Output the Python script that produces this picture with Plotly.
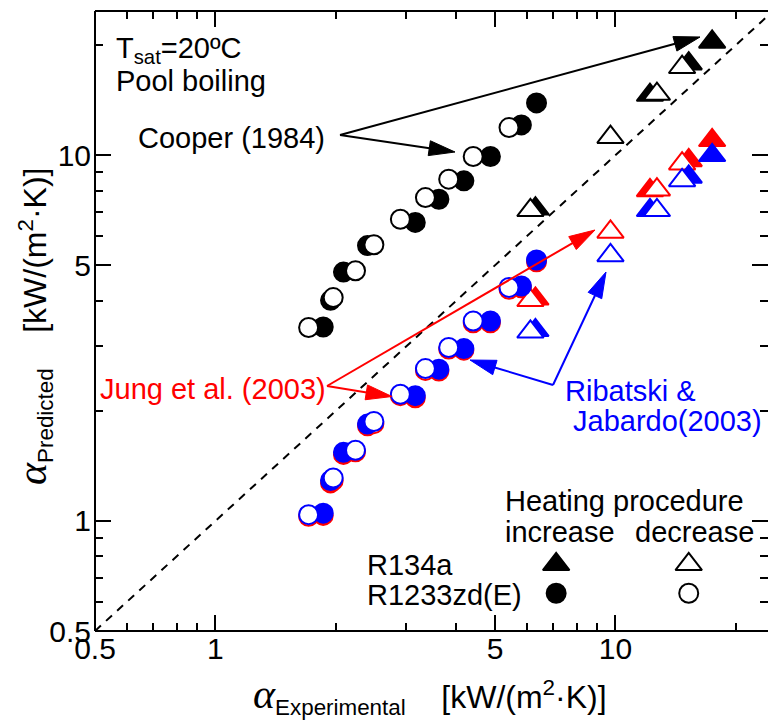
import math
import plotly.graph_objects as go

# ---------------- data (kW/(m2K)) ----------------
# R1233zd(E), heating increase (filled circles)
exp_r1233_inc = [1.86, 1.94, 2.09, 2.40, 3.16, 3.62, 4.18, 4.87, 5.82, 6.35]
cooper_r1233_inc = [3.39, 4.01, 4.79, 5.66, 6.55, 7.58, 8.51, 9.92, 12.1, 13.9]
jung_r1233_inc = [1.035, 1.27, 1.52, 1.82, 2.17, 2.57, 2.93, 3.48, 4.34, 5.11]
ribatski_r1233_inc = [1.05, 1.29, 1.54, 1.84, 2.20, 2.60, 2.96, 3.52, 4.39, 5.17]
# R1233zd(E), heating decrease (open circles)
exp_r1233_dec = [1.71, 1.97, 2.24, 2.49, 2.90, 3.35, 3.83, 4.41, 5.42]
cooper_r1233_dec = [3.38, 4.08, 4.83, 5.69, 6.68, 7.66, 8.60, 9.92, 11.9]
jung_r1233_dec = [1.03, 1.29, 1.545, 1.845, 2.20, 2.58, 2.95, 3.48, 4.30]
ribatski_r1233_dec = [1.04, 1.31, 1.56, 1.87, 2.22, 2.61, 2.98, 3.52, 4.35]
# R134a, heating increase (filled triangles)
exp_r134a_inc = [6.31, 12.2, 15.25, 17.45]
cooper_r134a_inc = [7.14, 14.6, 17.8, 20.4]
jung_r134a_inc = [4.05, 8.01, 9.68, 10.98]
ribatski_r134a_inc = [3.32, 7.07, 8.72, 9.99]
# R134a, heating decrease (open triangles)
exp_r134a_dec = [6.13, 9.72, 12.7, 14.68]
cooper_r134a_dec = [7.07, 11.2, 14.7, 17.4]
jung_r134a_dec = [4.01, 6.17, 8.05, 9.48]
ribatski_r134a_dec = [3.29, 5.32, 7.07, 8.53]

parity_line = [0.5, 30]

major_ticks = [0.5, 1, 5, 10]
major_labels = ["0.5", "1", "5", "10"]
minor_ticks = [0.6, 0.7, 0.8, 0.9, 2, 3, 4, 6, 7, 8, 9, 20]

# ---------------- layout constants ----------------
W, H = 768, 722
L, T, R, B = 95, 11, 768, 631
XDEC, YDEC = 400.0, 365.7
x_range = [math.log10(0.5), math.log10(0.5) + (R - L) / XDEC]
y_range = [math.log10(0.5), math.log10(0.5) + (B - T) / YDEC]

FONT = "Liberation Sans, Arial, sans-serif"
RED, BLUE, BLACK = "#ff0000", "#0000ff", "#000000"
CIRC, TRI = 19, 23


def P(px, py):
    return (px - L) / (R - L), (B - py) / (B - T)


fig = go.Figure()

fig.add_trace(go.Scatter(x=parity_line, y=parity_line, mode="lines",
                         line=dict(color=BLACK, width=2, dash="8px,7px"),
                         hoverinfo="skip", showlegend=False))


def add(x, y, symbol, color, filled, size):
    fig.add_trace(go.Scatter(
        x=x, y=y, mode="markers", showlegend=False,
        marker=dict(symbol=symbol, size=size,
                    color=color if filled else "white",
                    line=dict(color=color, width=2))))


for col, r1233i, r1233d, r134i, r134d in [
    (BLACK, cooper_r1233_inc, cooper_r1233_dec, cooper_r134a_inc, cooper_r134a_dec),
    (RED, jung_r1233_inc, jung_r1233_dec, jung_r134a_inc, jung_r134a_dec),
    (BLUE, ribatski_r1233_inc, ribatski_r1233_dec, ribatski_r134a_inc, ribatski_r134a_dec),
]:
    add(exp_r1233_inc, r1233i, "circle", col, True, CIRC)
    add(exp_r1233_dec, r1233d, "circle", col, False, CIRC)
    add(exp_r134a_inc, r134i, "triangle-up", col, True, TRI)
    add(exp_r134a_dec, r134d, "triangle-up", col, False, TRI)

# legend keys
leg_x = [7.11, 15.25]
add([leg_x[0]], [0.761], "triangle-up", BLACK, True, TRI)
add([leg_x[1]], [0.761], "triangle-up", BLACK, False, TRI)
add([leg_x[0]], [0.634], "circle", BLACK, True, CIRC)
add([leg_x[1]], [0.634], "circle", BLACK, False, CIRC)

# ---------------- frame + arrows (pixel geometry -> paper) ----------------
shapes = [
    dict(type="line", xref="paper", yref="paper", x0=0, y0=0, x1=0, y1=1,
         line=dict(color=BLACK, width=2)),
    dict(type="line", xref="paper", yref="paper", x0=0, y0=0, x1=1, y1=0,
         line=dict(color=BLACK, width=2)),
    dict(type="line", xref="paper", yref="paper", x0=0, y0=1, x1=1, y1=1,
         line=dict(color=BLACK, width=2)),
]


def arrow(tail, tip, color, hl=26, hw=15):
    dx, dy = tip[0] - tail[0], tip[1] - tail[1]
    d = math.hypot(dx, dy)
    ux, uy = dx / d, dy / d
    nx, ny = -uy, ux
    bx, by = tip[0] - hl * ux, tip[1] - hl * uy
    x0, y0 = P(*tail)
    x1, y1 = P(bx + 2 * ux, by + 2 * uy)
    shapes.append(dict(type="line", xref="paper", yref="paper", x0=x0, y0=y0,
                       x1=x1, y1=y1, line=dict(color=color, width=2)))
    pts = [tip, (bx + nx * hw / 2, by + ny * hw / 2), (bx - nx * hw / 2, by - ny * hw / 2)]
    pp = [P(*p) for p in pts]
    path = "M{} {} L{} {} L{} {} Z".format(pp[0][0], pp[0][1], pp[1][0], pp[1][1], pp[2][0], pp[2][1])
    shapes.append(dict(type="path", xref="paper", yref="paper", path=path,
                       fillcolor=color, line=dict(color=color, width=1)))


arrow((340, 135), (700, 37), BLACK)
arrow((340, 135), (455, 152), BLACK)
arrow((327, 386), (595, 230), RED)
arrow((327, 386), (392, 396.5), RED)
arrow((553, 385), (606, 272), BLUE)
arrow((553, 385), (470, 360), BLUE)

# ---------------- text ----------------
annotations = []


def text(t, px, py, color=BLACK, size=29, xanchor="left", yanchor="middle", angle=0):
    x, y = P(px, py)
    annotations.append(dict(text=t, x=x, y=y, xref="paper", yref="paper",
                            xanchor=xanchor, yanchor=yanchor, showarrow=False,
                            textangle=angle,
                            font=dict(family=FONT, size=size, color=color)))


text("T<sub>sat</sub>=20ºC", 114, 50)
text("Pool boiling", 114, 81)
text("Cooper (1984)", 136, 138)
text("Jung et al. (2003)", 98, 389, color=RED)
text("Ribatski &amp;", 563, 391, color=BLUE)
text("Jabardo(2003)", 571, 421, color=BLUE)
text("Heating procedure", 503, 501)
text("increase", 503, 532)
text("decrease", 633, 532)
text("R134a", 365, 565)
text("R1233zd(E)", 365, 595)

alpha = ('<span style="font-family:Liberation Serif,Times New Roman,serif;font-size:42px">'
         '<i>α</i></span>')
gap = "\u00a0\u00a0\u00a0\u00a0"
text(alpha + "<sub>Experimental</sub>" + gap + "[kW/(m<sup>2</sup>·K)]", 430, 695,
     size=32, xanchor="center")
text(alpha + "<sub>Predicted</sub>" + gap + "[kW/(m<sup>2</sup>·K)]", 33, 326,
     size=32, xanchor="center", angle=-90)

axis_common = dict(
    type="log", showgrid=False, zeroline=False, showline=False,
    mirror="allticks", ticks="inside", ticklen=16, tickwidth=2,
    tickcolor=BLACK, tickmode="array", tickvals=major_ticks, ticktext=major_labels,
    tickfont=dict(family=FONT, size=30, color=BLACK),
    minor=dict(tickmode="array", tickvals=minor_ticks, ticks="inside", ticklen=8,
               tickwidth=2, tickcolor=BLACK, showgrid=False),
)

fig.update_layout(
    width=W, height=H,
    margin=dict(l=L, r=W - R, t=T, b=H - B, pad=0),
    paper_bgcolor="white", plot_bgcolor="white",
    xaxis=dict(range=x_range, ticklabelstandoff=-3, **axis_common),
    yaxis=dict(range=y_range, ticklabelstandoff=3, **axis_common),
    shapes=shapes, annotations=annotations, showlegend=False,
)

fig.write_html("out.html", config={"displayModeBar": False},
               post_script="document.body.style.margin='0';document.body.style.overflow='hidden';")
